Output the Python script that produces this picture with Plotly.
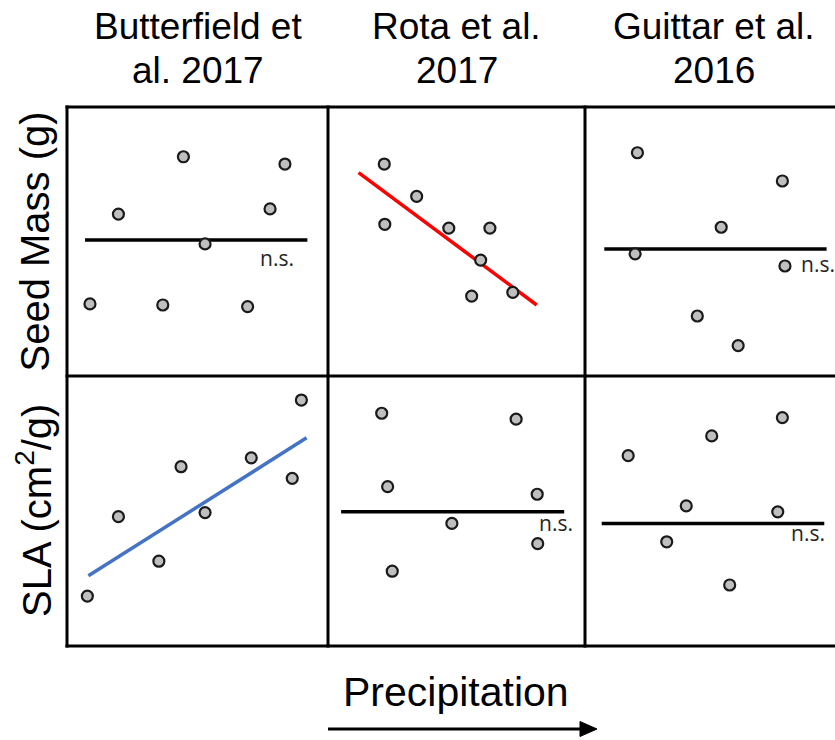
import plotly.graph_objects as go

# ---------------- data (arbitrary 0-10 units within each panel) ----------------
col_titles_line1 = ["Butterfield et", "Rota et al.", "Guittar et al."]
col_titles_line2 = ["al. 2017", "2017", "2016"]
row_titles = ["Seed Mass (g)", "SLA (cm<sup>2</sup>/g)"]
x_label = "Precipitation"

# Seed mass row
seed_butterfield_x = [0.88, 1.97, 3.67, 4.46, 5.29, 6.92, 7.78, 8.35]
seed_butterfield_y = [2.68, 6.02, 2.64, 8.15, 4.91, 2.58, 6.21, 7.88]
seed_butterfield_fit_x = [0.69, 9.21]
seed_butterfield_fit_y = [5.06, 5.06]

seed_rota_x = [2.19, 2.21, 3.45, 4.70, 5.59, 5.94, 6.30, 7.19]
seed_rota_y = [7.88, 5.64, 6.68, 5.50, 2.97, 4.31, 5.50, 3.11]
seed_rota_fit_x = [1.19, 8.12]
seed_rota_fit_y = [7.56, 2.64]

seed_guittar_x = [1.95, 2.04, 4.37, 5.30, 5.96, 7.68, 7.78]
seed_guittar_y = [4.54, 8.30, 2.23, 5.53, 1.13, 7.25, 4.09]
seed_guittar_fit_x = [0.75, 9.40]
seed_guittar_fit_y = [4.72, 4.72]

# SLA row
sla_butterfield_x = [0.78, 1.97, 3.52, 4.37, 5.29, 7.06, 8.63, 8.98]
sla_butterfield_y = [1.85, 4.79, 3.14, 6.64, 4.94, 6.97, 6.21, 9.11]
sla_butterfield_fit_x = [0.82, 9.18]
sla_butterfield_fit_y = [2.60, 7.71]

sla_rota_x = [2.09, 2.32, 2.50, 4.82, 7.32, 8.14, 8.16]
sla_rota_y = [8.62, 5.90, 2.77, 4.54, 8.40, 5.62, 3.79]
sla_rota_fit_x = [0.51, 9.19]
sla_rota_fit_y = [4.97, 4.97]

sla_guittar_x = [1.68, 3.18, 3.94, 4.93, 5.63, 7.50, 7.68]
sla_guittar_y = [7.05, 3.86, 5.19, 7.78, 2.26, 4.97, 8.46]
sla_guittar_fit_x = [0.65, 9.31]
sla_guittar_fit_y = [4.54, 4.54]

# "n.s." label positions (left edge, vertical middle) ; None = significant
ns_pos = {
    (0, 0): (7.31, 4.39),
    (0, 2): (8.34, 4.16),
    (1, 1): (8.12, 4.54),
    (1, 2): (7.95, 4.17),
}

panels = [
    [(seed_butterfield_x, seed_butterfield_y, seed_butterfield_fit_x, seed_butterfield_fit_y, "#000000"),
     (seed_rota_x, seed_rota_y, seed_rota_fit_x, seed_rota_fit_y, "#ff0000"),
     (seed_guittar_x, seed_guittar_y, seed_guittar_fit_x, seed_guittar_fit_y, "#000000")],
    [(sla_butterfield_x, sla_butterfield_y, sla_butterfield_fit_x, sla_butterfield_fit_y, "#4472c4"),
     (sla_rota_x, sla_rota_y, sla_rota_fit_x, sla_rota_fit_y, "#000000"),
     (sla_guittar_x, sla_guittar_y, sla_guittar_fit_x, sla_guittar_fit_y, "#000000")],
]

# ---------------- layout geometry (pixels) ----------------
W, H = 835, 740
col_edges = [67, 328, 585, 842]     # last edge lies beyond the visible canvas
row_edges = [107, 376, 646]
FONT = "Liberation Sans, Arial, sans-serif"


def px(xp):
    return xp / W


def py(yp):
    return 1 - yp / H


fig = go.Figure()
layout_axes = {}

for r in range(2):
    for c in range(3):
        idx = r * 3 + c + 1
        xa = "x" if idx == 1 else f"x{idx}"
        ya = "y" if idx == 1 else f"y{idx}"
        left, right = col_edges[c], min(col_edges[c + 1], W)
        full_w = col_edges[c + 1] - col_edges[c]
        xr = [0, 10 * (right - left) / full_w]
        top, bot = row_edges[r], row_edges[r + 1]
        xs, ys, fx, fy, lc = panels[r][c]
        fig.add_trace(go.Scatter(x=fx, y=fy, mode="lines", xaxis=xa, yaxis=ya,
                                 line=dict(color=lc, width=3.5), showlegend=False,
                                 hoverinfo="skip"))
        fig.add_trace(go.Scatter(x=xs, y=ys, mode="markers", xaxis=xa, yaxis=ya,
                                 marker=dict(size=11, color="#bfbfbf",
                                             line=dict(color="#1a1a1a", width=2.2)),
                                 cliponaxis=False, showlegend=False))
        kx = "xaxis" if idx == 1 else f"xaxis{idx}"
        ky = "yaxis" if idx == 1 else f"yaxis{idx}"
        layout_axes[kx] = dict(domain=[px(left), px(right)], range=xr, visible=False,
                               fixedrange=True, anchor=ya)
        layout_axes[ky] = dict(domain=[py(bot), py(top)], range=[0, 10], visible=False,
                               fixedrange=True, anchor=xa)
        if (r, c) in ns_pos:
            nx, ny = ns_pos[(r, c)]
            fig.add_annotation(x=nx, y=ny, xref=xa, yref=ya, text="n.s.", showarrow=False,
                               xanchor="left", yanchor="middle",
                               font=dict(family="Open Sans, sans-serif", size=21, color="#262626"))

fig.update_layout(**layout_axes)

# ---------------- grid borders ----------------
shapes = []
lw = 3
# horizontal lines
for yp in row_edges:
    shapes.append(dict(type="line", xref="paper", yref="paper",
                       x0=px(col_edges[0] - 1.5), x1=1, y0=py(yp), y1=py(yp),
                       line=dict(color="black", width=lw)))
# vertical lines
for xp in col_edges[:3]:
    shapes.append(dict(type="line", xref="paper", yref="paper",
                       x0=px(xp), x1=px(xp), y0=py(row_edges[0] - 1.5), y1=py(row_edges[-1] + 1.5),
                       line=dict(color="black", width=lw)))
# precipitation arrow
shapes.append(dict(type="line", xref="paper", yref="paper",
                   x0=px(328), x1=px(584), y0=py(729), y1=py(729),
                   line=dict(color="black", width=3)))
shapes.append(dict(type="path", xref="paper", yref="paper",
                   path=f"M {px(580)} {py(721.5)} L {px(597)} {py(729)} L {px(580)} {py(736.5)} Z",
                   fillcolor="black", line=dict(color="black", width=1)))
fig.update_layout(shapes=shapes)

# ---------------- titles ----------------
for c in range(3):
    cx = (col_edges[c] + col_edges[c + 1]) / 2
    fig.add_annotation(x=px(cx), y=py(27), xref="paper", yref="paper", text=col_titles_line1[c],
                       showarrow=False, xanchor="center", yanchor="middle",
                       font=dict(family=FONT, size=37, color="black"))
    fig.add_annotation(x=px(cx), y=py(70), xref="paper", yref="paper", text=col_titles_line2[c],
                       showarrow=False, xanchor="center", yanchor="middle",
                       font=dict(family=FONT, size=37, color="black"))

for r in range(2):
    cy = (row_edges[r] + row_edges[r + 1]) / 2
    fig.add_annotation(x=px(34), y=py(cy), xref="paper", yref="paper", text=row_titles[r],
                       showarrow=False, xanchor="center", yanchor="middle", textangle=-90,
                       font=dict(family=FONT, size=40, color="black"))

fig.add_annotation(x=px(456), y=py(692), xref="paper", yref="paper", text=x_label,
                   showarrow=False, xanchor="center", yanchor="middle",
                   font=dict(family=FONT, size=41, color="black"))

fig.update_layout(width=W, height=H, margin=dict(l=0, r=0, t=0, b=0),
                  paper_bgcolor="white", plot_bgcolor="rgba(0,0,0,0)", showlegend=False)

fig.write_html("out.html", config={"displayModeBar": False})
